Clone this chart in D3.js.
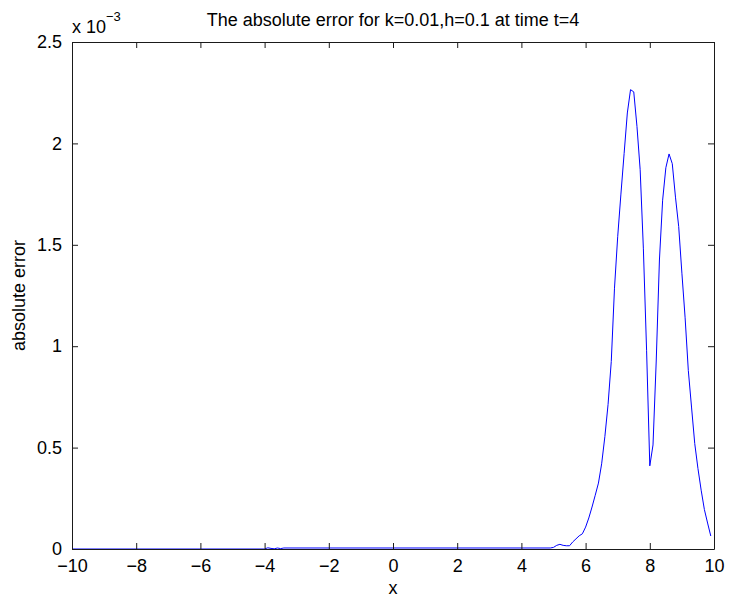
<!DOCTYPE html>
<html>
<head>
<meta charset="utf-8">
<script src="https://cdn.jsdelivr.net/npm/d3@7"></script>
<style>
  html, body { margin: 0; padding: 0; background: #fff; }
  svg { display: block; font-family: "Liberation Sans", Arial, Helvetica, sans-serif; }
</style>
</head>
<body>
<div id="chart"></div>
<script>
// ---- data (absolute error, in units of 1e-3) ----
const xValues = [
  -10, -4.0, -3.9, -3.8, -3.7, -3.6, -3.5, -3.4, 4.9,
  5.0, 5.1, 5.2, 5.3, 5.4, 5.5, 5.6, 5.7, 5.8, 5.9,
  6.0, 6.1, 6.2, 6.3, 6.4, 6.5, 6.6, 6.7, 6.8, 6.9,
  7.0, 7.1, 7.2, 7.3, 7.4, 7.5, 7.6, 7.7, 7.8, 7.9,
  8.0, 8.1, 8.2, 8.3, 8.4, 8.5, 8.6, 8.7, 8.8, 8.9,
  9.0, 9.1, 9.2, 9.3, 9.4, 9.5, 9.6, 9.7, 9.8, 9.9
];
const errValues = [
  0.000, 0.000, 0.006, 0.003, 0.001, 0.005, 0.002, 0.005, 0.005,
  0.008, 0.018, 0.023, 0.018, 0.016, 0.016, 0.035, 0.050, 0.065, 0.075,
  0.108, 0.153, 0.207, 0.265, 0.325, 0.420, 0.554, 0.713, 0.925, 1.286,
  1.540, 1.750, 1.950, 2.150, 2.265, 2.254, 2.084, 1.870, 1.480, 0.980,
  0.410, 0.513, 0.927, 1.425, 1.720, 1.880, 1.948, 1.900, 1.735, 1.590,
  1.360, 1.140, 0.880, 0.700, 0.520, 0.397, 0.290, 0.195, 0.128, 0.064
];
const xTicks = [-10, -8, -6, -4, -2, 0, 2, 4, 6, 8, 10];
const yTicks = [0, 0.5, 1, 1.5, 2, 2.5];
const titleText = "The absolute error for k=0.01,h=0.1 at time t=4";
const xLabelText = "x";
const yLabelText = "absolute error";

// ---- layout ----
const W = 729, H = 598;
const L = 72, R = 714, T = 42, B = 549;
const fontSize = 18;
const axisColor = "#1a1a1a";
const tickLen = 6;

const svg = d3.select("#chart").append("svg")
  .attr("width", W).attr("height", H);

const x = d3.scaleLinear().domain([-10, 10]).range([L, R]);
const y = d3.scaleLinear().domain([0, 2.5]).range([B, T]);

const fmtX = d => (d < 0 ? "\u2212" + Math.abs(d) : String(d));
const fmtY = d => String(d);

// data line
const pts = xValues.map((xv, i) => [xv, errValues[i]]);
const line = d3.line().x(d => x(d[0])).y(d => y(d[1]));

svg.append("path")
  .datum(pts)
  .attr("d", line)
  .attr("fill", "none")
  .attr("stroke", "#0000ff")
  .attr("stroke-width", 1);

// axes (MATLAB style box with inward ticks)
const gx = svg.append("g").attr("transform", `translate(0,${B})`)
  .call(d3.axisBottom(x).tickValues(xTicks).tickFormat(fmtX).tickSizeInner(-tickLen).tickSizeOuter(0).tickPadding(10));
const gxTop = svg.append("g").attr("transform", `translate(0,${T})`)
  .call(d3.axisTop(x).tickValues(xTicks).tickFormat("").tickSizeInner(-tickLen).tickSizeOuter(0));
const gy = svg.append("g").attr("transform", `translate(${L},0)`)
  .call(d3.axisLeft(y).tickValues(yTicks).tickFormat(fmtY).tickSizeInner(-tickLen).tickSizeOuter(0).tickPadding(10));
const gyR = svg.append("g").attr("transform", `translate(${R},0)`)
  .call(d3.axisRight(y).tickValues(yTicks).tickFormat("").tickSizeInner(-tickLen).tickSizeOuter(0));

[gx, gxTop, gy, gyR].forEach(g => {
  g.selectAll(".domain").attr("stroke", axisColor).attr("stroke-width", 1);
  g.selectAll(".tick line").attr("stroke", axisColor).attr("stroke-width", 1);
  g.selectAll(".tick text").attr("fill", "#000").attr("font-size", fontSize)
    .attr("font-family", "'Liberation Sans', Arial, sans-serif");
});
gx.selectAll(".tick text").attr("dy", "0.71em");

// exponent label
const ex = svg.append("text")
  .attr("x", L).attr("y", 33)
  .attr("font-size", fontSize).attr("fill", "#000");
ex.append("tspan").text("x 10");
ex.append("tspan").attr("dy", -12).attr("font-size", 13).text("\u22123");

// title
svg.append("text")
  .attr("x", (L + R) / 2).attr("y", 26)
  .attr("text-anchor", "middle")
  .attr("font-size", fontSize).attr("fill", "#000")
  .text(titleText);

// x label
svg.append("text")
  .attr("x", (L + R) / 2).attr("y", 594)
  .attr("text-anchor", "middle")
  .attr("font-size", fontSize).attr("fill", "#000")
  .text(xLabelText);

// y label
svg.append("text")
  .attr("transform", `translate(25,${(T + B) / 2}) rotate(-90)`)
  .attr("text-anchor", "middle")
  .attr("font-size", fontSize).attr("fill", "#000")
  .text(yLabelText);
</script>
</body>
</html>
